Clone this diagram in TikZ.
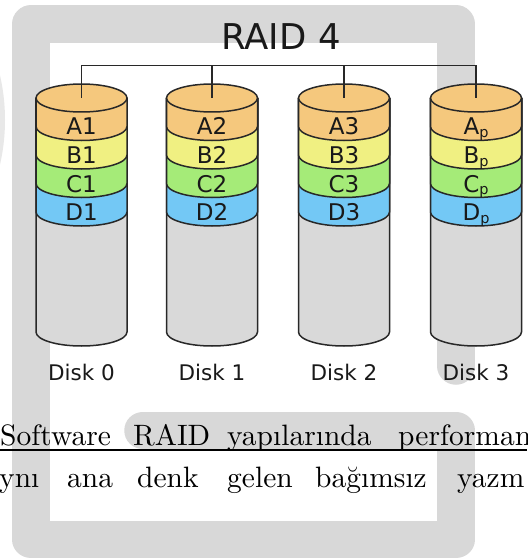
\documentclass[tikz,border=0pt]{standalone}
\usepackage{fontspec}
\newfontfamily\dejavu{DejaVu Sans}
\newfontfamily\prosefont{lmroman10-regular.otf}
\definecolor{bandgray}{RGB}{216,216,216}
\definecolor{softgray}{RGB}{232,232,232}
\definecolor{diskgray}{RGB}{217,217,217}
\definecolor{edge}{RGB}{40,40,40}
\definecolor{stripA}{RGB}{245,200,125}
\definecolor{stripB}{RGB}{240,240,130}
\definecolor{stripC}{RGB}{165,235,120}
\definecolor{stripD}{RGB}{115,200,245}
\definecolor{ink}{RGB}{25,25,25}
\newcommand\psub{\raisebox{-2.5pt}{\fontsize{14.5}{14.5}\selectfont p}}
\tikzset{
  layer/.style={fill=#1, draw=edge, line width=1.5pt, line join=round},
  wire/.style={draw=edge, line width=1.4pt},
  blocklbl/.style={anchor=base, inner sep=0pt, text=ink, font=\dejavu\fontsize{23}{27}\selectfont},
  disklbl/.style={anchor=base, inner sep=0pt, text=ink, font=\dejavu\fontsize{21.5}{26}\selectfont},
  prose/.style={anchor=base west, inner sep=0pt, text=black, font=\prosefont\fontsize{29.5}{35}\selectfont}
}
\begin{document}
\begin{tikzpicture}[x=1pt,y=1pt]
\useasboundingbox (0,0) rectangle (527,-559);
\clip (0,0) rectangle (527,-559);
\fill[white] (0,0) rectangle (527,-559);
% faint disc cut by the left edge
\fill[softgray] (-195,-120) circle[radius=200pt];
% thick grey frame band
\draw[bandgray, line width=37.5pt, line join=round, line cap=round]
  (456,-366) -- (456,-24) -- (31,-24) -- (31,-539.5) -- (456,-539.5)
  -- (456,-430.5) -- (143,-430.5);

% title
\node[anchor=base, inner sep=0pt, text=ink, font=\dejavu\fontsize{35.5}{40}\selectfont] (title) at (281,-50) {RAID 4};

% the four disks
\foreach \cx/\n/\s in {81.5/0/1, 212/1/2, 344/2/3, 476/3/\psub}{
  \path[layer=diskgray] ({\cx-45.5},-98) -- ({\cx-45.5},-332)
    arc[start angle=180, end angle=360, x radius=45.5pt, y radius=14pt] -- ({\cx+45.5},-98);
  \path[layer=stripD] ({\cx-45.5},-98) -- ({\cx-45.5},-212)
    arc[start angle=180, end angle=360, x radius=45.5pt, y radius=14pt] -- ({\cx+45.5},-98);
  \path[layer=stripC] ({\cx-45.5},-98) -- ({\cx-45.5},-183.5)
    arc[start angle=180, end angle=360, x radius=45.5pt, y radius=14pt] -- ({\cx+45.5},-98);
  \path[layer=stripB] ({\cx-45.5},-98) -- ({\cx-45.5},-155)
    arc[start angle=180, end angle=360, x radius=45.5pt, y radius=14pt] -- ({\cx+45.5},-98);
  \path[layer=stripA] ({\cx-45.5},-98) -- ({\cx-45.5},-126.5)
    arc[start angle=180, end angle=360, x radius=45.5pt, y radius=14pt] -- ({\cx+45.5},-98);
  \path[layer=stripA] (\cx,-98) ellipse[x radius=45.5pt, y radius=14pt];
  \coordinate (top\n) at (\cx,-98);
  \node[blocklbl] (a\n) at (\cx,-135) {A\s};
  \node[blocklbl] (b\n) at (\cx,-163.5) {B\s};
  \node[blocklbl] (c\n) at (\cx,-192) {C\s};
  \node[blocklbl] (d\n) at (\cx,-220.5) {D\s};
  \node[disklbl] (disk\n) at (\cx,-380) {Disk \n};
}

% controller bus down to each disk
\coordinate (bus) at (0,-65.5);
\draw[wire] (top0 |- bus) -- (top3 |- bus);
\foreach \n in {0,...,3}{
  \draw[wire] (top\n) -- (top\n |- bus);
}

% running text below
\node[prose] (w1) at (0,-445) {Software};
\node[prose] (w2) at (133,-445) {RAID};
\node[prose] (w3) at (227,-445) {yapılarında};
\node[prose] (w4) at (398,-445) {performan};
\draw[black, line width=1.3pt] (0,-450) -- (527,-450);
\node[prose] (v1) at (-1,-487) {ynı};
\node[prose] (v2) at (67,-487) {ana};
\node[prose] (v3) at (137,-487) {denk};
\node[prose] (v4) at (227,-487) {gelen};
\node[prose] (v5) at (315,-487) {bağımsız};
\node[prose] (v6) at (457,-487) {yazm};
\end{tikzpicture}
\end{document}
